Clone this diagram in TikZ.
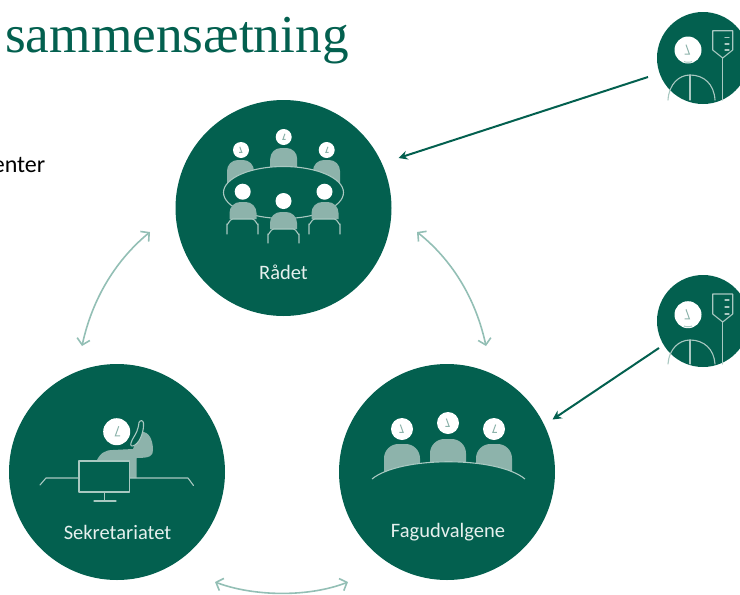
\documentclass[tikz,border=0pt]{standalone}
\usepackage{fontspec}
\setmainfont{Carlito}
\newfontfamily\titlefont{Liberation Serif}
\usetikzlibrary{arrows.meta}
\definecolor{dg}{HTML}{03604F}
\definecolor{lg}{HTML}{8DB3AB}
\definecolor{ll}{HTML}{A9C8C1}
\definecolor{arr}{HTML}{93BFB5}
\definecolor{lbl}{HTML}{E6F0EE}
\tikzset{
 bigc/.style={circle,fill=dg,draw=none,minimum size=216pt,inner sep=0pt},
 smallc/.style={circle,fill=dg,draw=none,minimum size=92pt,inner sep=0pt},
 lab/.style={text=lbl,font=\fontsize{20.5}{24}\selectfont,inner sep=0pt},
 linkarrow/.style={arr,line width=1.6pt,{Straight Barb[length=6pt,width=13pt,line width=1.6pt]}-{Straight Barb[length=6pt,width=13pt,line width=1.6pt]}},
 feed/.style={dg,line width=2pt,-{Stealth[length=9pt,width=9pt]}},
 outl/.style={ll,line width=1.1pt,line cap=round,line join=round},
}
% head at (x,y) radius r ; 4th arg mirrors the mark
\newcommand{\headmark}[4]{%
 \fill[white] (#1,#2) circle (#3pt);
 \draw[lg,line width=1pt] ({#1+#4*0.15*#3},{#2-0.4*#3}) -- ({#1-#4*0.1*#3},{#2+0.3*#3}) -- ({#1+#4*0.25*#3},{#2+0.3*#3});
}
\newcommand{\plainhead}[3]{\fill[white] (#1,#2) circle (#3pt);}
% shoulders: centre x, top y, half width, bottom y
\newcommand{\shoulders}[4]{%
 \fill[lg,rounded corners={0.8*#3 pt}] ({#1-#3},#4) -- ({#1-#3},#2) -- ({#1+#3},#2) -- ({#1+#3},#4);
}
\begin{document}
\begin{tikzpicture}[x=1pt,y=-1pt]
\useasboundingbox (0,0) rectangle (740,595);
\clip (0,0) rectangle (740,595);
\node[anchor=base west,inner sep=0pt,text=dg,font=\titlefont\fontsize{53.3}{56}\selectfont] (title) at (5,52) {sammensætning};
\node[anchor=base east,inner sep=0pt,font=\fontsize{24}{28}\selectfont,text=black] (frag) at (45.5,172) {enter};

\node[bigc] (raadet) at (283.5,208) {};
\node[bigc] (sekr) at (117,472) {};
\node[bigc] (fag) at (447,472) {};
\node[smallc] (pat1) at (703,58) {};
\node[smallc] (pat2) at (703,321) {};

\node[lab] (l1) at (283.5,272) {Rådet};
\node[lab] (l2) at (117.5,532.5) {Sekretariatet};
\node[lab] (l3) at (448,532.5) {Fagudvalgene};

% Raadet: back row
\shoulders{240.5}{160}{13.5}{184}
\shoulders{283.7}{148}{13.5}{172}
\shoulders{326.5}{160}{13.5}{184}
\headmark{241}{150}{8}{-1}
\headmark{283.7}{137}{8}{1}
\headmark{326.7}{150}{8}{1}
% table
\fill[dg] (283.5,192.5) ellipse (60 and 26);
\draw[outl] (283.5,192.5) ellipse (60 and 26);
% front row
\shoulders{243}{202}{13.5}{219}
\shoulders{283.5}{212}{13.5}{229}
\shoulders{325}{202}{13.5}{219}
\plainhead{242.7}{191.7}{8}
\plainhead{283.5}{201}{8}
\plainhead{324.5}{191.7}{8}
\foreach \cx/\cy/\cb in {242.5/219/234,283.5/229/243,324.5/219/234}{
 \draw[outl] ({\cx-15.5},\cb) -- ({\cx-15.5},{\cy+5}) to[out=-90,in=180] ({\cx-10},\cy) -- ({\cx+10},\cy) to[out=0,in=-90] ({\cx+15.5},{\cy+5}) -- ({\cx+15.5},\cb);
}

% Sekretariatet
\fill[lg] (96,462) .. controls (100,453) and (105,450) .. (113,450) -- (133,449) .. controls (137,440) and (138,434) .. (141,432) .. controls (149,431) and (153,440) .. (153,450) .. controls (153,456) and (150,458) .. (136.5,458) -- (136.5,478) -- (96,478) -- cycle;
\headmark{116.7}{431.7}{13.5}{1}
\draw[outl,fill=dg] (137,431) .. controls (139,428) and (138,425) .. (139,422.5) .. controls (140,420) and (143,420) .. (143.5,423) .. controls (144,430) and (141,441) .. (135,445) .. controls (132,447) and (130,446) .. (131,443) .. controls (132,439) and (135,436) .. (137,431) -- cycle;
\draw[outl] (40,485) -- (46,478) -- (79,478);
\draw[outl] (130,478) -- (188,478) -- (193.5,485.5);
\draw[outl,fill=dg] (79,461) rectangle (129.5,492);
\draw[outl] (104.7,492) -- (104.7,501);
\draw[outl] (94,501) -- (116,501);

% Fagudvalgene
\shoulders{402}{444}{18}{475}
\shoulders{448}{439}{18}{470}
\shoulders{494}{444}{18}{475}
\headmark{402}{429}{11}{-1}
\headmark{448}{423}{11}{-1}
\headmark{494}{429}{11}{1}
\fill[dg] (372,479) .. controls (400,456) and (497,456) .. (525,479) -- (525,500) -- (372,500) -- cycle;
\draw[ll,line width=1.1pt] (372,479) .. controls (400,456) and (497,456) .. (525,479);

% patient 1
\headmark{688}{50}{13.5}{-1}
\draw[ll,line width=1pt] (684,61.5) .. controls (686,62.5) and (690,62.5) .. (692,61.5);
\draw[outl] (668,100) .. controls (669,84) and (679,75) .. (690,75) .. controls (704,75) and (714,84) .. (715,100);
\draw[outl] (690,75) -- (690,100);
\draw[outl] (712.7,30.7) -- (732.7,30.7) -- (732.7,50) -- (722.7,58) -- (712.7,50) -- cycle;
\draw[outl] (722.7,58) -- (722.7,100);
\foreach \yy in {37.7,44,50}{\draw[outl] (725,\yy) -- (729,\yy);}

% patient 2
\headmark{688}{314.7}{13.5}{-1}
\draw[ll,line width=1pt] (684,326) .. controls (686,327) and (690,327) .. (692,326);
\draw[outl] (668,364) .. controls (669,349) and (679,340) .. (690,340) .. controls (704,340) and (714,349) .. (715,364);
\draw[outl] (690,340) -- (690,364);
\draw[outl] (712.7,294) -- (732.7,294) -- (732.7,314) -- (722.7,322) -- (712.7,314) -- cycle;
\draw[outl] (722.7,322) -- (722.7,364);
\foreach \yy in {300,307,314}{\draw[outl] (725,\yy) -- (729,\yy);}

% connectors
\path (raadet.center) ++(-133.5,24) coordinate (a1);
\path (sekr.center) ++(-35,-126) coordinate (a2);
\path (raadet.center) ++(133.5,24) coordinate (b1);
\path (fag.center) ++(39,-126) coordinate (b2);
\path (sekr.center) ++(98,110) coordinate (c1);
\path (fag.center) ++(-99,110) coordinate (c2);
\draw[linkarrow] (a1) .. controls (122,255) and (94,291) .. (a2);
\draw[linkarrow] (b1) .. controls (446,255) and (474,291) .. (b2);
\draw[linkarrow] (c1) .. controls (255,597) and (310,597) .. (c2);
\path (pat1.center) ++(-55,19) coordinate (f1);
\path (pat2.center) ++(-44,27) coordinate (f2);
\path (raadet.center) ++(115,-50) coordinate (t1);
\path (fag.center) ++(105.5,-52.5) coordinate (t2);
\draw[feed] (f1) -- (t1);
\draw[feed] (f2) -- (t2);
\end{tikzpicture}
\end{document}
